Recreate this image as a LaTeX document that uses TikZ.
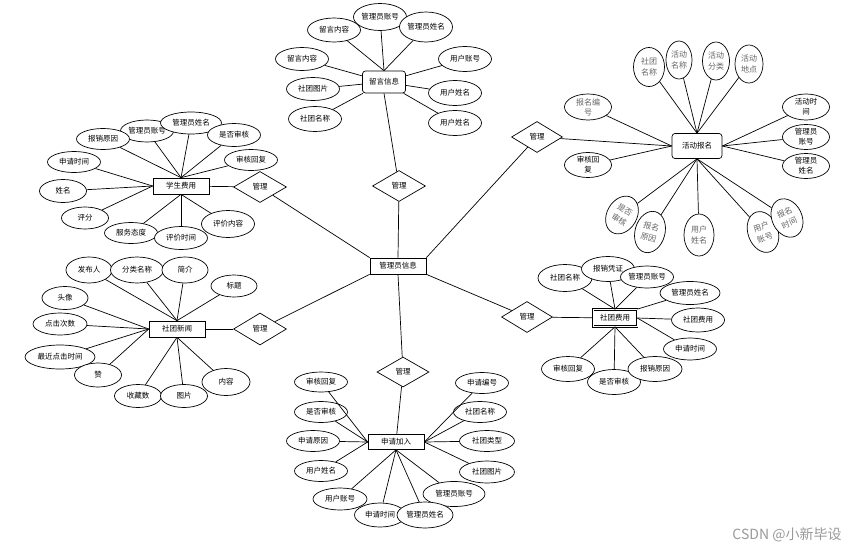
\documentclass[tikz,border=0pt]{standalone}
\usepackage{fontspec}
\setmainfont{Noto Sans CJK SC}
\usetikzlibrary{shapes.geometric}

\begin{document}
\begin{tikzpicture}[x=1pt, y=-1pt,
every path/.style={line width=0.7pt},
ent/.style={draw,
rectangle,
fill=white,
minimum width=56pt,
minimum height=16pt,
inner sep=0pt,
font=\fontsize{7.5}{8}\selectfont},
rent/.style={ent, rounded corners=3pt},
attr/.style={draw,
ellipse,
fill=white,
minimum width=53pt,
minimum height=23pt,
inner sep=0pt,
font=\fontsize{7.5}{8}\selectfont},
vattr/.style={attr,
minimum width=30pt,
minimum height=40pt,
align=center,
text=black!60,
font=\fontsize{8}{11.5}\selectfont},
battr/.style={attr,
minimum width=47pt,
minimum height=26pt,
align=center,
font=\fontsize{7.5}{10}\selectfont},
rel/.style={draw,
diamond,
fill=white,
minimum width=53pt,
minimum height=31pt,
inner sep=0pt,
font=\fontsize{7.5}{8}\selectfont}
]
\useasboundingbox (0,0) rectangle (857,552);

% centre
\node[ent] (gly) at (398,266) {管理员信息};

% 留言信息
\node[rel] (gl1) at (399,186) {管理};
\node[rent, minimum width=43pt, minimum height=22pt] (lyxx) at (384,82) {留言信息};
\node[attr, minimum height=27pt] (ly2) at (380,17) {管理员账号};
\node[attr, minimum height=24pt] (ly1) at (334,30) {留言内容};
\node[attr, minimum height=30pt] (ly3) at (426,27) {管理员姓名};
\node[attr] (ly4) at (302,59) {留言内容};
\node[attr] (ly5) at (313,89) {社团图片};
\node[attr, minimum height=25pt] (ly6) at (315,119) {社团名称};
\node[attr, minimum height=25pt] (ly7) at (465,59) {用户账号};
\node[attr, minimum height=25pt] (ly8) at (455,93) {用户姓名};
\node[attr, minimum height=25pt] (ly9) at (455,123) {用户姓名};

\draw (ly1) -- (lyxx.north);
\draw (ly2) -- (lyxx.north);
\draw (ly3) -- (lyxx.north);
\draw (ly4) -- (lyxx);
\draw (ly5) -- (lyxx);
\draw (ly6) -- (lyxx);
\draw (ly7) -- (lyxx);
\draw (ly8) -- (lyxx);
\draw (ly9) -- (lyxx);
\draw (lyxx.south) -- (gl1);
\draw (gl1) -- (gly.north);

% 学生费用
\node[ent] (xsfy) at (181,186) {学生费用};
\node[rel] (gl2) at (260,187) {管理};
\node[attr, minimum height=22pt] (xs2) at (147,131) {管理员账号};
\node[attr, minimum height=21pt] (xs1) at (103,139) {报销原因};
\node[attr, minimum width=61pt, minimum height=22pt] (xs3) at (191,123) {管理员姓名};
\node[attr] (xs4) at (234,135) {是否审核};
\node[attr, minimum height=21pt] (xs5) at (251,160) {审核回复};
\node[attr, minimum height=21pt] (xs6) at (74,162) {申请时间};
\node[attr, minimum width=47pt] (xs7) at (63,191) {姓名};
\node[attr, minimum width=47pt, minimum height=22pt] (xs8) at (85,218) {评分};
\node[attr, minimum height=21pt] (xs9) at (131,233) {服务态度};
\node[attr] (xs10) at (181,238) {评价时间};
\node[attr, minimum height=27pt] (xs11) at (228,224) {评价内容};

\draw (xs1) -- (xsfy.north);
\draw (xs2) -- (xsfy.north);
\draw (xs3) -- (xsfy.north);
\draw (xs4) -- (xsfy.north);
\draw (xs5) -- (xsfy.north);
\draw (xs6) -- (xsfy.west);
\draw (xs7) -- (xsfy.west);
\draw (xs8) -- (xsfy.west);
\draw (xs9) -- (xsfy.south);
\draw (xs10) -- (xsfy.south);
\draw (xs11) -- (xsfy.south);
\draw (xsfy) -- (gl2);
\draw (gl2) -- (gly.north west);

% 社团新闻
\node[ent] (stxw) at (177,329) {社团新闻};
\node[rel, minimum height=32pt] (gl3) at (260,329) {管理};
\node[attr, minimum width=46pt, minimum height=26pt] (xw1) at (89,270) {发布人};
\node[attr, minimum height=26pt] (xw2) at (137,270) {分类名称};
\node[attr, minimum width=46pt, minimum height=26pt] (xw3) at (185,270) {简介};
\node[attr, minimum width=46pt, minimum height=22pt] (xw4) at (234,286) {标题};
\node[attr, minimum width=46pt] (xw5) at (65,298) {头像};
\node[attr, minimum width=54pt, minimum height=22pt] (xw6) at (60,324) {点击次数};
\node[attr, minimum width=70pt, minimum height=24pt] (xw7) at (60,357) {最近点击时间};
\node[attr, minimum width=47pt, minimum height=24pt] (xw8) at (98,375) {赞};
\node[attr, minimum width=47pt] (xw9) at (138,396) {收藏数};
\node[attr, minimum width=47pt] (xw10) at (184,396) {图片};
\node[attr, minimum width=48pt, minimum height=27pt] (xw11) at (226,382) {内容};

\draw (xw1) -- (stxw.north);
\draw (xw2) -- (stxw.north);
\draw (xw3) -- (stxw.north);
\draw (xw4) -- (stxw.north);
\draw (xw5) -- (stxw.west);
\draw (xw6) -- (stxw.west);
\draw (xw7) -- (stxw.west);
\draw (xw8) -- (stxw.west);
\draw (xw9) -- (stxw.south);
\draw (xw10) -- (stxw.south);
\draw (xw11) -- (stxw.south);
\draw (stxw) -- (gl3);
\draw (gl3) -- (gly.south west);

% 活动报名
\node[rent, minimum width=50pt, minimum height=25pt] (hdbm) at (697,146) {活动报名};
\node[rel, minimum width=51pt] (gl4) at (537,137) {管理};
\node[vattr, minimum width=31pt, minimum height=39pt] (hd1) at (649,67) {社团\\名称};
\node[vattr, minimum width=26pt, minimum height=38pt] (hd2) at (679,60) {活动\\名称};
\node[vattr, minimum width=27pt, minimum height=38pt] (hd3) at (716,61) {活动\\分类};
\node[vattr, minimum width=28pt, minimum height=38pt] (hd4) at (749,64) {活动\\地点};
\node[battr, text=black!60, font=\fontsize{8}{10}\selectfont] (hd5) at (588,107) {报名编\\号};
\node[battr, minimum height=25pt] (hd6) at (588,165) {审核回\\复};
\node[battr] (hd7) at (806,107) {活动时\\间};
\node[battr, minimum height=25pt] (hd8) at (806,137) {管理员\\账号};
\node[battr, minimum height=25pt] (hd9) at (806,166) {管理员\\姓名};
\node[vattr, rotate=-30] (hd10) at (622,215) {是否\\审核};
\node[vattr, rotate=-15, minimum height=42pt] (hd11) at (650,232) {报名\\原因};
\node[vattr, minimum height=42pt] (hd12) at (699,235) {用户\\姓名};
\node[vattr, rotate=20, minimum height=42pt] (hd13) at (763,232) {用户\\账号};
\node[vattr, rotate=25] (hd14) at (787,218) {报名\\时间};

\draw (hd1) -- (hdbm.north);
\draw (hd2) -- (hdbm.north);
\draw (hd3) -- (hdbm.north);
\draw (hd4) -- (hdbm.north);
\draw (hd5) -- (hdbm.west);
\draw (hd6) -- (hdbm.west);
\draw (gl4) -- (hdbm.west);
\draw (hd7) -- (hdbm.east);
\draw (hd8) -- (hdbm.east);
\draw (hd9) -- (hdbm.east);
\draw (hd10) -- (hdbm.south);
\draw (hd11) -- (hdbm.south);
\draw (hd12) -- (hdbm.south);
\draw (hd13) -- (hdbm.south);
\draw (hd14) -- (hdbm.south);
\draw (gl4) -- (gly.north east);

% 社团费用
\node[ent, double, double distance=0.8pt, minimum width=44pt, minimum height=17pt] (stfy) at (615,318) {社团费用};
\node[rel, minimum width=51pt] (gl5) at (527,317) {管理};
\node[attr, minimum width=54pt, minimum height=27pt] (sf1) at (565,278) {社团名称};
\node[attr, minimum height=25pt] (sf2) at (608,269) {报销凭证};
\node[attr, minimum height=22pt] (sf3) at (647,277) {管理员账号};
\node[attr, minimum width=60pt] (sf4) at (690,293) {管理员姓名};
\node[attr, minimum height=24pt] (sf5) at (698,320) {社团费用};
\node[attr, minimum height=22pt] (sf6) at (690,349) {申请时间};
\node[attr, minimum height=25pt] (sf9) at (568,369) {审核回复};
\node[attr, minimum height=25pt] (sf8) at (614,382) {是否审核};
\node[attr, minimum width=54pt, minimum height=25pt] (sf7) at (655,369) {报销原因};

\draw (sf1) -- (stfy.north);
\draw (sf2) -- (stfy.north);
\draw (sf3) -- (stfy.north);
\draw (sf4) -- (stfy.north east);
\draw (sf5) -- (stfy.east);
\draw (sf6) -- (stfy.east);
\draw (sf7) -- (stfy.south);
\draw (sf8) -- (stfy.south);
\draw (sf9) -- (stfy.south);
\draw (gl5) -- (stfy);
\draw (gl5) -- (gly.south east);

% 申请加入
\node[ent, minimum height=15pt] (sqjr) at (396,442) {申请加入};
\node[rel, minimum width=52pt, minimum height=30pt] (gl6) at (403,372) {管理};
\node[attr, minimum height=20pt] (sq1) at (321,382) {审核回复};
\node[attr, minimum height=21pt] (sq2) at (321,412) {是否审核};
\node[attr, minimum height=21pt] (sq3) at (313,441) {申请原因};
\node[attr, minimum height=21pt] (sq4) at (321,471) {用户姓名};
\node[attr, minimum height=21pt] (sq9) at (482,383) {申请编号};
\node[attr, minimum height=21pt] (sq10) at (480,412) {社团名称};
\node[attr, minimum width=55pt, minimum height=21pt] (sq11) at (487,441) {社团类型};
\node[attr, minimum width=55pt, minimum height=22pt] (sq12) at (487,472) {社团图片};
\node[attr, minimum width=54pt, minimum height=22pt] (sq5) at (340,499) {用户账号};
\node[attr, minimum width=62pt, minimum height=25pt] (sq8) at (454,494) {管理员账号};
\node[attr, minimum width=51pt, minimum height=24pt] (sq6) at (380,515) {申请时间};
\node[attr, minimum width=56pt, minimum height=26pt] (sq7) at (425,515) {管理员姓名};

\draw (sq1) -- (sqjr.west);
\draw (sq2) -- (sqjr.west);
\draw (sq3) -- (sqjr.west);
\draw (sq4) -- (sqjr.west);
\draw (sq9) -- (sqjr.east);
\draw (sq10) -- (sqjr.east);
\draw (sq11) -- (sqjr.east);
\draw (sq12) -- (sqjr.east);
\draw (sq5) -- (sqjr.south);
\draw (sq6) -- (sqjr.south);
\draw (sq7) -- (sqjr.south);
\draw (sq8) -- (sqjr.south);
\draw (gl6) -- (sqjr);
\draw (gl6) -- (gly.south);

% watermark
\node[text=black!40, font=\fontsize{14}{16}\selectfont] (mark) at (787,535) {CSDN @小新毕设};

\end{tikzpicture}
\end{document}
